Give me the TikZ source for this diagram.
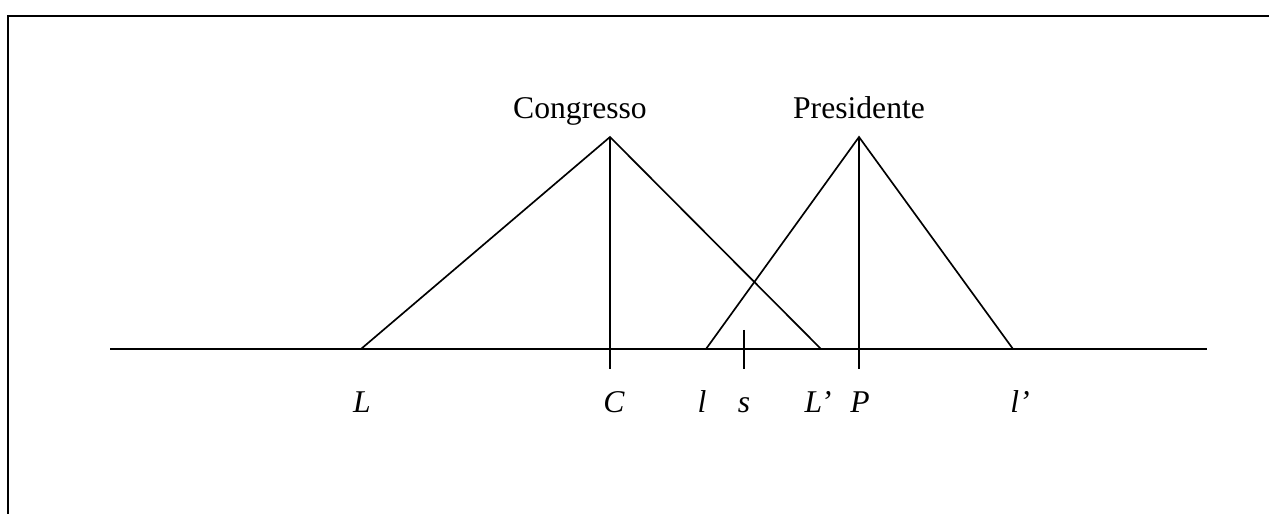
\documentclass[tikz,border=0pt]{standalone}
\usepackage{fontspec}
\setmainfont{Liberation Serif}
\usetikzlibrary{positioning}

\begin{document}
\begin{tikzpicture}[line width=0.95pt,
 lab/.style={font=\fontsize{18}{21}\selectfont\itshape,anchor=base},
 title/.style={font=\fontsize{18}{21}\selectfont,anchor=base}]
\useasboundingbox (0,0) rectangle (25.38,10.28);
% frame (only top and left edge are visible)
\draw[line width=1.5pt] (0.16,0) -- (0.16,9.96) -- (25.38,9.96);
% axis
\coordinate (left) at (2.20,3.30);
\coordinate (right) at (24.14,3.30);
\draw (left) -- (right);
% Congresso
\coordinate (ctop) at (12.20,7.54);
\coordinate (cL) at (7.22,3.30);
\coordinate (cR) at (16.42,3.30);
\coordinate (cbot) at (12.20,2.90);
\draw (cL) -- (ctop) -- (cR);
\draw (ctop) -- (cbot);
% Presidente
\coordinate (ptop) at (17.18,7.54);
\coordinate (pL) at (14.12,3.30);
\coordinate (pR) at (20.26,3.30);
\coordinate (pbot) at (17.18,2.90);
\draw (pL) -- (ptop) -- (pR);
\draw (ptop) -- (pbot);
% status quo
\coordinate (stop) at (14.88,3.68);
\coordinate (sbot) at (14.88,2.90);
\draw (stop) -- (sbot);
% titles
\node[title] (congresso) at (11.60,7.90) {Congresso};
\node[title] (presidente) at (17.18,7.90) {Presidente};
% labels
\node[lab] (labL) at (7.24,2.02) {L};
\node[lab] (labC) at (12.28,2.02) {C};
\node[lab] (labl) at (14.04,2.02) {l};
\node[lab] (labs) at (14.88,2.02) {s};
\node[lab] (labLp) at (16.36,2.02) {L’};
\node[lab] (labP) at (17.20,2.02) {P};
\node[lab] (lablp) at (20.40,2.02) {l’};
\end{tikzpicture}
\end{document}
